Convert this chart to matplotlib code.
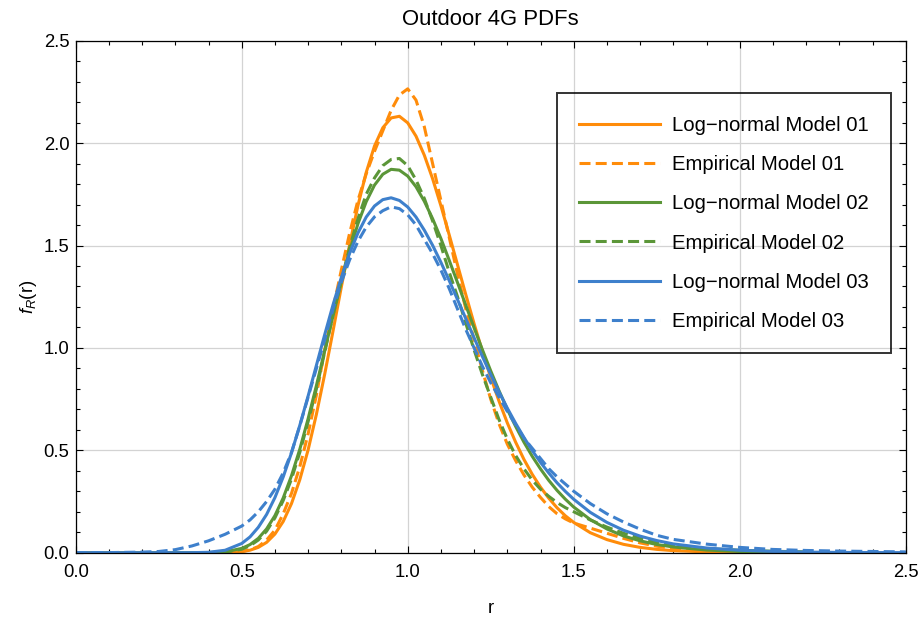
import numpy as np
import matplotlib
matplotlib.use("Agg")
import matplotlib.pyplot as plt
from matplotlib.ticker import MultipleLocator, FormatStrFormatter

plt.rcParams['font.family'] = ['Liberation Sans', 'DejaVu Sans']
plt.rcParams['mathtext.fontset'] = 'custom'
plt.rcParams['mathtext.rm'] = 'Liberation Sans'
plt.rcParams['mathtext.it'] = 'Liberation Sans:italic'

nan = np.nan
r = [0.0, 0.1, 0.2, 0.25, 0.3, 0.35, 0.4, 0.45,
     0.5, 0.525, 0.55, 0.575, 0.6, 0.625, 0.65, 0.675, 0.7, 0.725, 0.75, 0.775,
     0.8, 0.825, 0.85, 0.875, 0.9, 0.925, 0.95, 0.975, 1.0, 1.025, 1.05, 1.075,
     1.1, 1.125, 1.15, 1.175, 1.2, 1.225, 1.25, 1.275, 1.3, 1.325, 1.35, 1.375,
     1.4, 1.425, 1.45, 1.475, 1.5,
     1.55, 1.6, 1.65, 1.7, 1.75, 1.8, 1.9, 2.0, 2.1, 2.2, 2.3, 2.4, 2.5]

lognormal_01 = [0, 0, 0, 0, 0, 0, 0, 0.0006,
                0.005, 0.0122, 0.026, 0.0505, 0.091, 0.1525, 0.240, 0.3566, 0.502, 0.676, 0.872, 1.082,
                1.297, 1.504, 1.694, 1.857, 1.986, 2.075, 2.123, 2.131, 2.099, 2.034, 1.941, 1.826,
                1.694, 1.552, 1.406, 1.260, 1.118, 0.983, 0.856, 0.740, 0.634, 0.540, 0.456, 0.383,
                0.320, 0.266, 0.219, 0.180, 0.148,
                0.0976, 0.064, 0.0409, 0.026, 0.0163, 0.010, 0.004, 0.0014, 0.0005, nan, nan, nan, nan]
empirical_01 = [0, 0, 0, 0, 0, 0, 0, 0.001,
                0.006, 0.014, 0.03, 0.062, 0.11, 0.19, 0.29, 0.42, 0.58, 0.77, 0.99, 1.19,
                1.38, 1.56, 1.72, 1.85, 1.96, 2.06, 2.16, 2.235, 2.265, 2.21, 2.08, 1.90,
                1.72, 1.54, 1.36, 1.19, 1.04, 0.89, 0.75, 0.63, 0.53, 0.45, 0.38, 0.32,
                0.27, 0.225, 0.19, 0.165, 0.145,
                0.12, 0.095, 0.07, 0.048, 0.032, 0.02, 0.008, 0.003, 0.001, nan, nan, nan, nan]
lognormal_02 = [0, 0, 0, 0, 0, 0.00004, 0.0006, 0.004,
                0.021, 0.0396, 0.070, 0.1162, 0.181, 0.2673, 0.376, 0.5055, 0.654, 0.816, 0.986, 1.157,
                1.322, 1.473, 1.606, 1.714, 1.795, 1.848, 1.872, 1.868, 1.839, 1.787, 1.716, 1.631,
                1.534, 1.428, 1.319, 1.208, 1.098, 0.991, 0.888, 0.791, 0.700, 0.617, 0.540, 0.471,
                0.409, 0.353, 0.304, 0.261, 0.223,
                0.1615, 0.116, 0.0818, 0.058, 0.040, 0.028, 0.013, 0.006, 0.003, 0.0012, nan, nan, nan]
empirical_02 = [0, 0, 0, 0, 0, 0, 0.0005, 0.003,
                0.017, 0.034, 0.062, 0.105, 0.17, 0.255, 0.36, 0.49, 0.64, 0.80, 0.98, 1.16,
                1.33, 1.49, 1.63, 1.75, 1.83, 1.89, 1.92, 1.925, 1.89, 1.82, 1.73, 1.62,
                1.50, 1.37, 1.25, 1.12, 0.99, 0.87, 0.76, 0.65, 0.555, 0.475, 0.41, 0.355,
                0.31, 0.275, 0.245, 0.22, 0.20,
                0.16, 0.125, 0.095, 0.07, 0.05, 0.035, 0.02, 0.012, 0.007, 0.004, nan, nan, nan]
lognormal_03 = [0, 0, 0, 0, 0.00001, 0.0003, 0.002, 0.012,
                0.045, 0.077, 0.124, 0.1869, 0.269, 0.370, 0.488, 0.622, 0.765, 0.915, 1.065, 1.210,
                1.344, 1.462, 1.561, 1.639, 1.693, 1.724, 1.733, 1.720, 1.688, 1.639, 1.575, 1.501,
                1.418, 1.329, 1.236, 1.143, 1.049, 0.958, 0.870, 0.786, 0.706, 0.632, 0.563, 0.499,
                0.441, 0.389, 0.341, 0.299, 0.261,
                0.197, 0.148, 0.1098, 0.081, 0.0594, 0.043, 0.023, 0.012, 0.006, 0.003, 0.0015, 0.0008, 0.0004]
empirical_03 = [0, 0.0005, 0.003, 0.006, 0.015, 0.033, 0.058, 0.09,
                0.13, 0.16, 0.20, 0.25, 0.31, 0.39, 0.49, 0.62, 0.76, 0.90, 1.04, 1.19,
                1.32, 1.43, 1.52, 1.59, 1.64, 1.67, 1.689, 1.68, 1.65, 1.60, 1.53, 1.46,
                1.38, 1.29, 1.19, 1.09, 1.0, 0.91, 0.83, 0.76, 0.69, 0.625, 0.56, 0.51,
                0.46, 0.41, 0.37, 0.335, 0.30,
                0.24, 0.19, 0.15, 0.115, 0.085, 0.065, 0.042, 0.026, 0.016, 0.011, 0.008, 0.006, 0.004]

labels = ["Log\u2212normal Model 01", "Empirical Model 01",
          "Log\u2212normal Model 02", "Empirical Model 02",
          "Log\u2212normal Model 03", "Empirical Model 03"]
colors = ["#FF8C0A", "#FF8C0A", "#5B9638", "#5B9638", "#3E80CC", "#3E80CC"]
series = [lognormal_01, empirical_01, lognormal_02, empirical_02, lognormal_03, empirical_03]
dashed = [False, True, False, True, False, True]

fig = plt.figure(figsize=(9.21, 6.17), dpi=100)
ax = fig.add_axes([0.0822, 0.1042, 0.9012, 0.8298])

for ys, c, d, lab in zip(series, colors, dashed, labels):
    if d:
        ax.plot(r, ys, color=c, lw=2.2, dashes=(3.6, 1.7), label=lab)
    else:
        ax.plot(r, ys, color=c, lw=2.2, label=lab)

ax.set_xlim(0, 2.5)
ax.set_ylim(0, 2.5)
ax.xaxis.set_major_locator(MultipleLocator(0.5))
ax.yaxis.set_major_locator(MultipleLocator(0.5))
ax.xaxis.set_minor_locator(MultipleLocator(0.1))
ax.yaxis.set_minor_locator(MultipleLocator(0.1))
ax.xaxis.set_major_formatter(FormatStrFormatter('%.1f'))
ax.yaxis.set_major_formatter(FormatStrFormatter('%.1f'))
ax.tick_params(which='both', direction='in', top=True, right=True, color='black', width=0.8)
ax.tick_params(which='major', length=5, labelsize=13.3)
ax.tick_params(which='minor', length=2.8)
ax.tick_params(axis='x', which='major', pad=8)
ax.tick_params(axis='y', which='major', pad=4.5)
ax.grid(True, which='major', color='#D3D3D3', lw=0.9)
ax.set_axisbelow(True)
for s in ax.spines.values():
    s.set_linewidth(0.9)
    s.set_color('black')

ax.set_title("Outdoor 4G PDFs", fontsize=15.9, pad=11)
ax.set_xlabel("r", fontsize=13.3, labelpad=14)
ax.set_ylabel(r"$\mathit{f}_{\mathit{R}}\mathrm{(r)}$", fontsize=13.3, labelpad=3)

leg = ax.legend(loc='upper left', bbox_to_anchor=(0.5795, 0.897), fontsize=14.6,
                frameon=True, fancybox=False, edgecolor='black', facecolor='none',
                handlelength=4.0, handletextpad=0.6, labelspacing=1.0,
                borderpad=1.1, borderaxespad=0.0)
leg.get_frame().set_linewidth(1.4)

fig.savefig("out.png", dpi=100)
